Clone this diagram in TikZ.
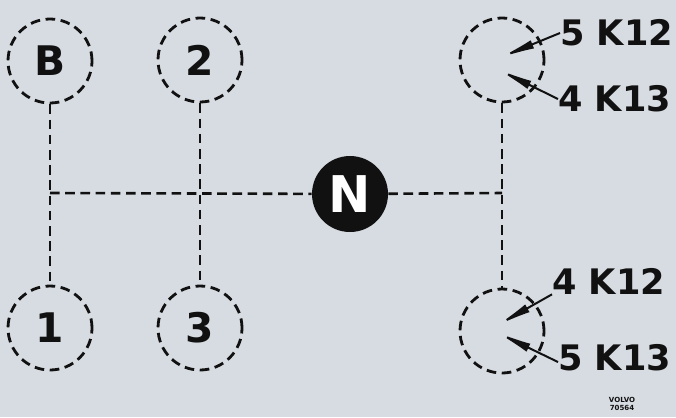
\documentclass[tikz,border=0pt]{standalone}
\usepackage{fontspec}
\setmainfont{DejaVu Sans}
\usetikzlibrary{arrows.meta,positioning,calc}
\usepackage{xcolor}
\definecolor{paper}{HTML}{D7DCE2}
\definecolor{ink}{HTML}{111111}
\tikzset{
  gate/.style={circle, draw=ink, line width=0.7mm, dash pattern=on 2.4mm off 1.4mm, minimum size=21mm, inner sep=0pt, font=\fontsize{29}{29}\selectfont\bfseries, text=ink},
  neutral/.style={circle, fill=ink, minimum size=19mm, inner sep=0pt, font=\fontsize{36}{36}\selectfont\bfseries, text=white},
  rail/.style={draw=ink, line width=0.65mm, dash pattern=on 2.4mm off 1.4mm},
  tag/.style={anchor=west, inner sep=0pt, font=\fontsize{25}{25}\selectfont\bfseries, text=ink},
  pointer/.style={-{Latex[length=9mm,width=2.2mm]}, line width=0.5mm, draw=ink}
}

\begin{document}
\begin{tikzpicture}[x=0.25mm, y=-0.25mm]
  \fill[paper] (0,0) rectangle (676,417);
  \useasboundingbox (0,0) rectangle (676,417);
  % gate positions
  \node[gate] (gB) at (50,61) {B};
  \node[gate] (g2) at (200,60) {2};
  \node[gate] (g1) at (50,328) {1};
  \node[gate] (g3) at (200,328) {3};
  \node[gate] (g5) at (502,60) {};
  \node[gate] (g4) at (502,331) {};
  \node[neutral] (N) at (350,194) {N};
  % selector rails
  \coordinate (lj) at (50,193);
  \coordinate (rj) at (502,193);
  \draw[rail] (gB) -- (g1);
  \draw[rail] (g2) -- (g3);
  \draw[rail] (g5) -- (g4);
  \draw[rail] (lj) -- (N);
  \draw[rail] (N) -- (rj);
  % overdrive labels
  \node[tag] (t5a) at (560,33) {5 K12};
  \node[tag] (t4a) at (558,99) {4 K13};
  \node[tag] (t4b) at (552,281) {4 K12};
  \node[tag] (t5b) at (558,358) {5 K13};
  \coordinate (p5a) at ($(g5.center)+(-3,-2)$);
  \coordinate (p4a) at ($(g5.center)+(-5,9)$);
  \coordinate (p4b) at ($(g4.center)+(-6,-5)$);
  \coordinate (p5b) at ($(g4.center)+(-6,1)$);
  \draw[pointer] (t5a.west) -- (p5a);
  \draw[pointer] (t4a.west) -- (p4a);
  \draw[pointer] (t4b.south west) -- (p4b);
  \draw[pointer] ([yshift=-1mm]t5b.west) -- (p5b);
  \node[font=\fontsize{5}{5.5}\selectfont\bfseries, align=center, text=ink, inner sep=0pt] (mark) at (622,404) {VOLVO\\70564};
\end{tikzpicture}
\end{document}
